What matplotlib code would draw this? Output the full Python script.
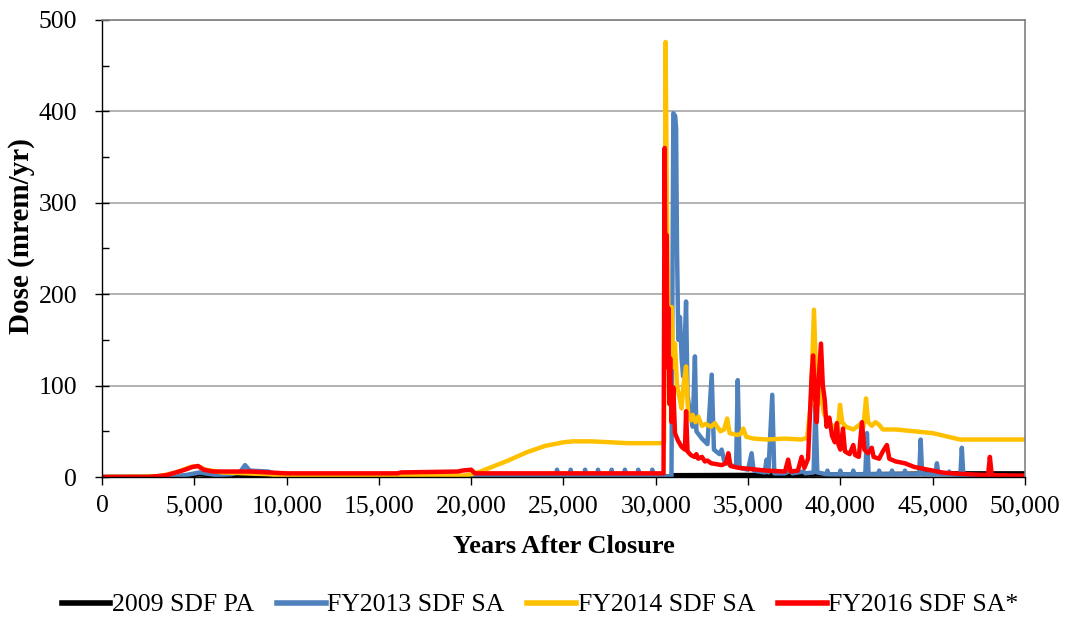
import numpy as np
import matplotlib.pyplot as plt
from matplotlib.ticker import MultipleLocator, FuncFormatter

plt.rcParams['font.family'] = ['Liberation Serif', 'DejaVu Serif']

# (years after closure, dose in mrem/yr)
pa_2009 = [(0, 0), (4000, 0.5), (5300, 3), (6500, 1), (10000, 0.5), (30850, 0.5),
           (31000, 2), (38000, 2.5), (46000, 4), (50000, 4)]

sa_fy2013 = [(0, 0), (3500, 0), (4500, 2), (5300, 5), (6200, 2), (7000, 3), (7500, 6),
             (7750, 13), (8000, 7), (9000, 6), (9500, 3), (10500, 0.5), (24590, 0.5),
             (24650, 8), (24710, 0.5), (25330, 0.5), (25390, 8), (25450, 0.5),
             (26110, 0.5), (26170, 8), (26230, 0.5), (26810, 0.5), (26870, 8),
             (26930, 0.5), (27550, 0.5), (27610, 8), (27670, 0.5), (28270, 0.5),
             (28330, 8), (28390, 0.5), (28990, 0.5), (29050, 8), (29110, 0.5),
             (29750, 0.5), (29810, 8), (29870, 0.5), (30850, 0.5), (30950, 398),
             (31050, 395), (31100, 382), (31150, 250), (31220, 150), (31310, 175),
             (31400, 130), (31480, 110), (31560, 140), (31640, 192), (31720, 90),
             (31850, 70), (32000, 55), (32120, 132), (32200, 50), (32500, 42),
             (32800, 36), (33030, 112), (33150, 30), (33450, 25), (33570, 30),
             (33700, 18), (34020, 13), (34350, 11), (34440, 106), (34540, 10),
             (35000, 8), (35190, 26), (35300, 7), (35900, 5), (36000, 19), (36100, 5),
             (36310, 90), (36420, 4), (37000, 4), (37300, 7), (37400, 4), (38000, 6),
             (38100, 4), (38550, 5), (38650, 78), (38750, 5), (39250, 3), (39300, 7),
             (39350, 3), (39950, 3), (40000, 7), (40050, 3), (40650, 3), (40700, 7),
             (40750, 3), (41350, 3), (41440, 48), (41530, 3), (42050, 3), (42100, 7),
             (42150, 3), (42750, 3), (42800, 7), (42850, 3), (43450, 3), (43500, 7),
             (43550, 3), (44270, 3), (44350, 41), (44430, 3), (45150, 3), (45230, 15),
             (45310, 3), (45850, 3), (45900, 6), (45950, 3), (46500, 2), (46580, 32),
             (46660, 2), (47200, 1), (50000, 0)]

sa_fy2014 = [(0, 0), (3000, 0.5), (4000, 5), (4800, 11), (5200, 12), (5600, 8), (6500, 5),
             (9000, 3), (10000, 1), (19000, 1), (19800, 2), (20500, 6), (21000, 10),
             (22000, 18), (23000, 27), (24000, 34), (25000, 38), (25500, 39),
             (26500, 39), (27500, 38), (28500, 37), (30350, 37), (30450, 38),
             (30530, 476), (30600, 300), (30680, 180), (30760, 130), (30860, 186),
             (30950, 120), (31040, 146), (31150, 100), (31250, 90), (31400, 75),
             (31500, 100), (31640, 121), (31750, 70), (31900, 62), (32000, 68),
             (32150, 60), (32300, 66), (32500, 56), (32700, 58), (33000, 55),
             (33200, 59), (33500, 50), (33700, 52), (33870, 64), (34000, 48),
             (34400, 46), (34600, 47), (34740, 53), (34900, 44), (35300, 42),
             (36000, 41), (37000, 42), (37900, 41), (38200, 43), (38400, 80),
             (38570, 183), (38700, 100), (38800, 80), (38900, 110), (39000, 85),
             (39100, 70), (39300, 62), (39600, 55), (39850, 50), (39980, 79),
             (40100, 60), (40300, 55), (40700, 52), (41100, 58), (41250, 55),
             (41390, 86), (41500, 60), (41700, 56), (41900, 60), (42100, 57),
             (42300, 52), (43000, 52), (44000, 50), (45000, 48), (46480, 41),
             (50000, 41)]

sa_fy2016 = [(0, 0), (2500, 0), (3000, 1), (3500, 2), (4000, 5), (4500, 8), (4900, 11),
             (5200, 12), (5500, 8), (6000, 6), (8000, 6), (9000, 5), (10000, 4),
             (16000, 4), (16200, 5), (19300, 6), (19500, 7), (20000, 8), (20200, 4),
             (30420, 4), (30480, 360), (30540, 140), (30580, 265), (30630, 120),
             (30680, 185), (30730, 80), (30780, 130), (30850, 60), (30950, 98),
             (31040, 48), (31200, 40), (31400, 33), (31580, 30), (31640, 72),
             (31720, 28), (31900, 24), (32100, 22), (32200, 25), (32300, 20),
             (32500, 22), (32660, 17), (32800, 18), (33000, 15), (33300, 14),
             (33570, 13), (33800, 15), (33930, 26), (34050, 12), (34500, 10),
             (35000, 9), (35500, 8), (36000, 7), (37000, 6), (37170, 19), (37300, 6),
             (37700, 7), (37900, 22), (38050, 10), (38250, 20), (38440, 110),
             (38520, 133), (38620, 90), (38720, 60), (38800, 100), (38950, 146),
             (39050, 100), (39150, 85), (39250, 55), (39400, 65), (39550, 45),
             (39700, 38), (39810, 59), (39900, 35), (40000, 30), (40140, 53),
             (40250, 28), (40500, 25), (40700, 35), (40800, 24), (41000, 22),
             (41170, 60), (41300, 30), (41500, 26), (41700, 32), (41800, 22),
             (42100, 20), (42300, 28), (42520, 35), (42650, 20), (43000, 17),
             (43500, 15), (44000, 11), (44500, 9), (45000, 7), (45500, 5), (46000, 4),
             (47000, 3), (48000, 2), (48100, 22), (48200, 2), (50000, 1.5)]

series = [("2009 SDF PA", pa_2009, "#000000"),
          ("FY2013 SDF SA", sa_fy2013, "#4F81BD"),
          ("FY2014 SDF SA", sa_fy2014, "#FFC000"),
          ("FY2016 SDF SA*", sa_fy2016, "#FF0000")]

fig = plt.figure(figsize=(10.65, 6.19), dpi=100)
ax = fig.add_axes([0.0958, 0.2294, 0.8666, 0.7383])

for name, pts, color in series:
    yrs, dose = np.array(pts, dtype=float).T
    ax.plot(yrs, dose, color=color, lw=3.2, label=name, solid_joinstyle='round')

ax.set_xlim(0, 50000)
ax.set_ylim(0, 500)
ax.xaxis.set_major_locator(MultipleLocator(5000))
ax.yaxis.set_major_locator(MultipleLocator(100))
ax.yaxis.set_minor_locator(MultipleLocator(50))
ax.xaxis.set_major_formatter(FuncFormatter(lambda v, p: f"{int(v):,}"))

ax.grid(axis='y', color='#A6A6A6', lw=1.2)
ax.set_axisbelow(True)
for s in ['top', 'right']:
    ax.spines[s].set_color('#808080')
    ax.spines[s].set_linewidth(1.2)
for s in ['left', 'bottom']:
    ax.spines[s].set_color('black')
    ax.spines[s].set_linewidth(1.0)

ax.tick_params(axis='x', direction='out', length=6, width=1, labelsize=18.5, pad=7)
ax.tick_params(axis='y', which='major', direction='inout', length=10, width=1,
               labelsize=18.5, pad=13)
ax.tick_params(axis='y', which='minor', direction='in', length=5, width=1)

ax.set_xlabel("Years After Closure", fontsize=19, fontweight='bold', labelpad=13)
ax.set_ylabel("Dose (mrem/yr)", fontsize=21, fontweight='bold')
ax.yaxis.set_label_coords(-0.073, 0.527)

leg = fig.legend(loc='center', bbox_to_anchor=(540 / 1065, 1 - 605 / 619), ncol=4,
                 frameon=False, fontsize=18.5, handlelength=1.9, handletextpad=0.05,
                 columnspacing=0.9)
for line in leg.get_lines():
    line.set_linewidth(4)

fig.savefig("out.png", dpi=100)
